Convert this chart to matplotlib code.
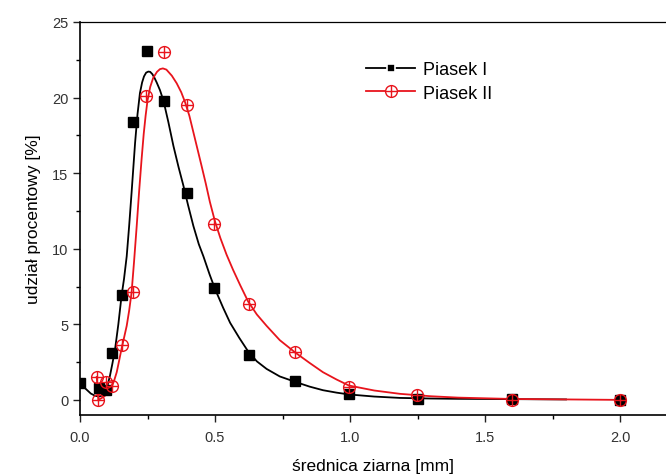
import matplotlib
matplotlib.use("Agg")
import matplotlib.pyplot as plt
from matplotlib.lines import Line2D
from matplotlib.ticker import MultipleLocator, FormatStrFormatter

plt.rcParams['font.family'] = ['Liberation Sans', 'DejaVu Sans']

# Piasek I - measured points
x1 = [0.0, 0.07, 0.095, 0.118, 0.155, 0.197, 0.248, 0.312, 0.396, 0.497, 0.626, 0.797, 0.995, 1.25, 1.6, 2.0]
y1 = [1.12, 0.77, 0.66, 3.1, 6.94, 18.4, 23.1, 19.8, 13.7, 7.4, 2.95, 1.26, 0.38, 0.08, 0.04, 0.0]
# Piasek II - measured points
x2 = [0.062, 0.068, 0.095, 0.12, 0.157, 0.197, 0.245, 0.312, 0.396, 0.495, 0.626, 0.796, 0.997, 1.247, 1.6, 2.0]
y2 = [1.52, 0.0, 1.17, 0.9, 3.66, 7.16, 20.08, 23.04, 19.5, 11.64, 6.37, 3.2, 0.88, 0.3, 0.02, 0.0]

# fitted curves
c1x = [0.0, 0.02, 0.04, 0.055, 0.07, 0.08, 0.09, 0.099, 0.111, 0.12, 0.13, 0.142, 0.154, 0.163,
       0.173, 0.182, 0.191, 0.204, 0.213, 0.222, 0.23, 0.237, 0.245, 0.253, 0.26, 0.268, 0.276,
       0.284, 0.296, 0.309, 0.327, 0.346, 0.365, 0.383, 0.40, 0.42, 0.44, 0.457, 0.48, 0.5, 0.53,
       0.556, 0.59, 0.623, 0.655, 0.691, 0.74, 0.796, 0.85, 0.9, 0.95, 0.996, 1.09, 1.185, 1.3,
       1.4, 1.6, 1.8]
c1y = [1.12, 0.75, 0.42, 0.28, 0.22, 0.28, 0.45, 0.73, 1.6, 2.4, 3.37, 5.0, 6.9, 8.0,
       9.5, 11.5, 13.7, 17.0, 18.9, 20.3, 21.0, 21.4, 21.65, 21.72, 21.7, 21.55, 21.3,
       21.0, 20.5, 19.8, 18.4, 16.8, 15.4, 14.17, 12.9, 11.5, 10.3, 9.5, 8.3, 7.34, 6.1,
       5.1, 4.1, 3.2, 2.55, 2.05, 1.55, 1.2, 0.88, 0.64, 0.48, 0.36, 0.22, 0.13, 0.09,
       0.07, 0.05, 0.03]
c2x = [0.062, 0.068, 0.08, 0.093, 0.105, 0.117, 0.126, 0.136, 0.145, 0.154, 0.163, 0.173, 0.182,
       0.191, 0.2, 0.21, 0.219, 0.228, 0.236, 0.243, 0.25, 0.26, 0.271, 0.285, 0.296, 0.307,
       0.32, 0.34, 0.358, 0.375, 0.389, 0.405, 0.42, 0.435, 0.45, 0.466, 0.481, 0.5, 0.52,
       0.543, 0.567, 0.593, 0.623, 0.655, 0.691, 0.74, 0.796, 0.85, 0.9, 0.95, 0.996, 1.09,
       1.185, 1.3, 1.4, 1.6, 1.8, 2.0]
c2y = [1.52, 0.0, 0.12, 0.28, 0.52, 0.84, 1.25, 1.83, 2.6, 3.4, 4.1, 4.9, 5.9,
       7.1, 9.1, 11.5, 13.8, 15.9, 17.6, 18.8, 19.8, 20.7, 21.3, 21.7, 21.88, 21.93,
       21.85, 21.45, 20.95, 20.35, 19.7, 18.8, 17.7, 16.6, 15.5, 14.3, 13.1, 11.8, 10.7,
       9.6, 8.6, 7.6, 6.5, 5.65, 4.9, 3.95, 3.15, 2.45, 1.83, 1.35, 0.95, 0.62,
       0.4, 0.24, 0.15, 0.06, 0.03, 0.0]

fig = plt.figure(figsize=(6.66, 4.77), dpi=100)
ax = fig.add_axes([80/666, 1-416/477, 1-80/666, (416-23)/477])

red = '#e8141c'
ax.plot(c1x, c1y, color='black', lw=1.3, zorder=2, solid_joinstyle='round')
ax.plot(c2x, c2y, color=red, lw=1.3, zorder=2, solid_joinstyle='round')
ax.plot(x1, y1, ls='none', marker='s', ms=6.5, color='black', zorder=3)
ax.plot(x2, y2, ls='none', marker='o', ms=8.5, mfc='none', mec=red, mew=1.0, zorder=4)
ax.plot(x2, y2, ls='none', marker='+', ms=8.5, color=red, mew=1.0, zorder=4)

ax.set_xlim(0, 586/270)
ax.set_ylim(-1, 25)
ax.xaxis.set_major_locator(MultipleLocator(0.5))
ax.xaxis.set_minor_locator(MultipleLocator(0.25))
ax.yaxis.set_major_locator(MultipleLocator(5))
ax.yaxis.set_minor_locator(MultipleLocator(2.5))
ax.xaxis.set_major_formatter(FormatStrFormatter('%.1f'))
ax.tick_params(direction='out', which='major', length=5, width=1.0, labelsize=10.5, colors='#222222', labelcolor='#333333')
ax.tick_params(direction='out', which='minor', length=3, width=1.0)
ax.tick_params(axis='x', pad=6)
ax.spines['right'].set_visible(False)
for s in ['left', 'bottom']:
    ax.spines[s].set_linewidth(1.2)
ax.spines['top'].set_linewidth(0.9)

ax.set_xlabel('średnica ziarna [mm]', fontsize=12.5, labelpad=10)
ax.set_ylabel('udział procentowy [%]', fontsize=12.5, labelpad=8)

h1 = Line2D([], [], color='black', lw=1.3, marker='s', ms=6, mec='white', mew=1.2)
h2a = Line2D([], [], color=red, lw=1.3, marker='o', ms=8.5, mfc='white', mec=red)
h2b = Line2D([], [], color=red, lw=0, marker='+', ms=8.5, mew=1.0)
ax.legend([h1, (h2a, h2b)], ['Piasek I', 'Piasek II'], loc='upper left',
          bbox_to_anchor=(350/666, 1-46/477), bbox_transform=fig.transFigure,
          frameon=False, fontsize=13, handlelength=2.7, handletextpad=0.45, labelspacing=0.35)

fig.savefig('out.png', dpi=100)
